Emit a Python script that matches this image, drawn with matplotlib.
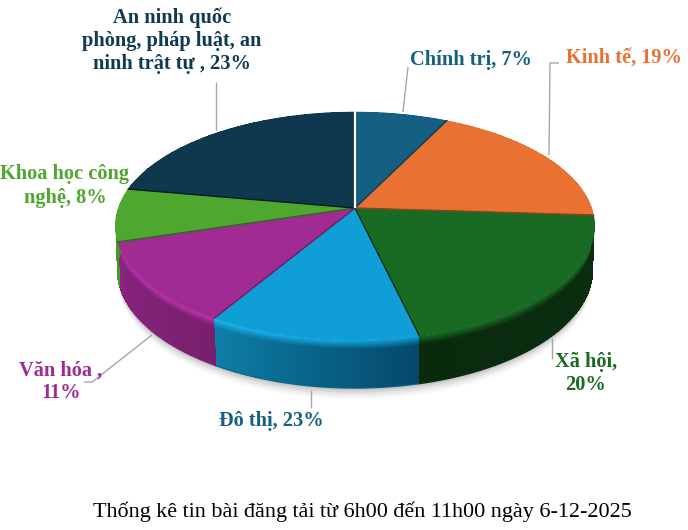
import numpy as np
import matplotlib
matplotlib.use('Agg')
import matplotlib.pyplot as plt
from matplotlib.patches import Polygon
from matplotlib.colors import to_rgb

# slice sizes as measured on the drawn pie (the printed labels do not add up to 100)
slice_shares = [7.3, 18.7, 20.3, 12.3, 11.7, 7.5, 22.2]
slice_colors = ['#156082', '#E97132', '#196B24', '#0F9ED5', '#A02B93', '#4EA72E', '#0D384D']
# wall colour at the start and the end of each slice (clockwise)
side_colors = [('#0E4058', '#0E4058'), ('#A04A1E', '#A04A1E'), ('#0B2F10', '#0A2A0E'),
               ('#05486A', '#0D7FA8'), ('#771F6C', '#8A2580'), ('#48A02A', '#3F8F25'),
               ('#0A2A3A', '#0A2A3A')]
rim_colors = [('#156082', '#156082'), ('#E97132', '#E97132'), ('#196B24', '#196B24'),
              ('#0F9ED5', '#1BB8F0'), ('#B935AA', '#B935AA'), ('#5DBB38', '#5DBB38'),
              ('#0D384D', '#0D384D')]
radial_colors = ['#0D3A4F', '#0D3A4F', '#8A431D', '#0B2F10', '#6F1D66', '#2C6A1A', '#061A24']

labels = [
    ('Chính trị, 7%', 471, 60, '#156082'),
    ('Kinh tế, 19%', 624, 58, '#E97132'),
    ('Xã hội,\n20%', 586, 373, '#196B24'),
    ('Đô thị, 23%', 271, 421, '#156082'),
    ('Văn hóa ,\n11%', 61, 382, '#A02B93'),
    ('Khoa học công\nnghệ, 8%', 65, 186, '#4EA72E'),
    ('An ninh quốc\nphòng, pháp luật, an\nninh trật tự , 23%', 172, 41, '#0F3B52'),
]
leaders = [
    ([408, 403], [67, 112]),
    ([559, 550, 549], [63, 63, 155]),
    ([552, 552], [338, 359]),
    ([311, 311], [390, 408]),
    ([152, 92, 84], [335, 382, 382]),
    ([216, 216], [82, 130]),
]
caption = 'Thống kê tin bài đăng tải từ 6h00 đến 11h00 ngày 6-12-2025'

# pie geometry in pixels, with a little perspective
cx, apex_y = 355, 208
rx, ry, persp = 236.7, 111.2, 0.158
depth, rx_bottom, ry_bottom = 43.5, 0.99, 1.035


def rim(theta, s=0.0):
    # theta in degrees clockwise from 12 o'clock, s goes 0..1 down the wall
    t = np.radians(theta)
    w = 1 + persp * np.cos(t)
    x = cx + (1 + (rx_bottom - 1) * s) * rx * np.sin(t) / w
    y = apex_y + depth * s - (1 + (ry_bottom - 1) * s) * ry * np.cos(t) / w
    return x, y


def blend(c1, c2, f):
    return np.array(to_rgb(c1)) + (np.array(to_rgb(c2)) - np.array(to_rgb(c1))) * f


fig = plt.figure(figsize=(6.88, 5.30), dpi=100)
ax = fig.add_axes([0, 0, 1, 1])
ax.set_xlim(0, 688)
ax.set_ylim(530, 0)
ax.axis('off')

edges = np.concatenate([[0], np.cumsum(slice_shares)]) / np.sum(slice_shares) * 360

# soft shadow under the pie
th = np.linspace(0, 360, 240)
for off, a in zip([10, 8, 6, 4, 2], [0.025, 0.035, 0.045, 0.06, 0.08]):
    x, y = rim(th, 1 + off / depth)
    ax.add_patch(Polygon(np.column_stack([x, y]), closed=True, fc='black', ec='none', alpha=a, zorder=1))

# side walls as a shaded mesh, angle along one axis and wall height along the other
bands = np.r_[np.linspace(0, 0.2, 13), 1.0]
for i in range(len(slice_shares)):
    steps = np.linspace(edges[i], edges[i + 1], int(edges[i + 1] - edges[i]) * 3 + 2)
    tt, ss = np.meshgrid(steps, bands)
    mx, my = rim(tt, ss)
    cols = np.zeros((len(bands) - 1, len(steps) - 1, 3))
    for k in range(len(bands) - 1):
        for j in range(len(steps) - 1):
            f = j / max(1, len(steps) - 2)
            wall = blend(side_colors[i][0], side_colors[i][1], f)
            top = blend(rim_colors[i][0], rim_colors[i][1], f)
            cols[k, j] = top + (wall - top) * min(1, bands[k] / 0.18)
    ax.pcolormesh(mx, my, cols, shading='flat', antialiased=False, zorder=2)
    # smooth the lower edge of the wall
    bx, by = rim(steps, 1.0)
    ax.plot(bx, by, color=blend(side_colors[i][0], side_colors[i][1], 0.5), lw=0.8, zorder=2)

# top faces
for i in range(len(slice_shares)):
    th = np.linspace(edges[i], edges[i + 1], 80)
    x, y = rim(th)
    pts = np.column_stack([np.r_[cx, x], np.r_[apex_y, y]])
    ax.add_patch(Polygon(pts, closed=True, fc=slice_colors[i], ec=slice_colors[i], lw=0.3, zorder=3))

# dark lines between the slices
for i in range(len(slice_shares)):
    x, y = rim(edges[i])
    ax.plot([cx, x], [apex_y, y], color=radial_colors[i], lw=1.0, zorder=4)

# the white gap at 12 o'clock
x, y = rim(0.0)
ax.plot([x, cx], [y - 1, apex_y - 1], color='white', lw=1.6, zorder=4)

for xs, ys in leaders:
    ax.plot(xs, ys, color='#A6A6A6', lw=1.0, zorder=2, solid_capstyle='butt')

for text, x, y, color in labels:
    ax.text(x, y, text, color=color, ha='center', va='center', family='Liberation Serif',
            fontsize=14.7, fontweight='bold', linespacing=1.2, zorder=5)

ax.text(362, 512, caption, color='black', ha='center', va='center',
        family='Liberation Serif', fontsize=15.95)

fig.savefig('out.png', dpi=100)
